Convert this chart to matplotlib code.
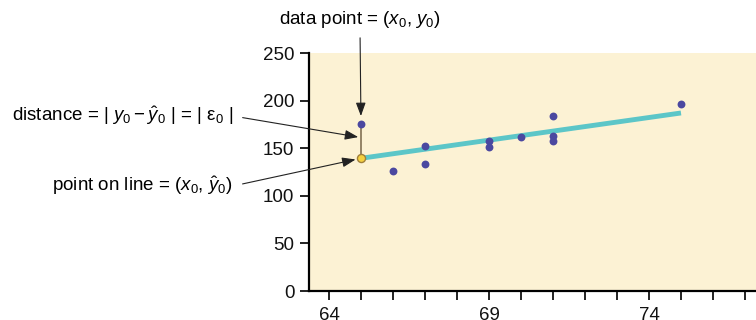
import matplotlib
matplotlib.use("Agg")
import matplotlib.pyplot as plt
import numpy as np

plt.rcParams['font.family'] = ['Liberation Sans', 'DejaVu Sans']
plt.rcParams['mathtext.fontset'] = 'custom'
plt.rcParams['mathtext.rm'] = 'Liberation Sans'
plt.rcParams['mathtext.it'] = 'Liberation Sans:italic'
plt.rcParams['mathtext.bf'] = 'Liberation Sans:bold'

# data
x_vals = [65, 66, 67, 67, 69, 69, 70, 71, 71, 71, 75]
y_vals = [175, 126, 152, 133, 158, 151, 162, 184, 163, 158, 196]
intercept = -170.0
slope = 4.76
line_x = [65, 75]
x0, y0 = 65, 175
x_ticks = list(range(64, 78))
x_tick_labels = ['64' if t == 64 else '69' if t == 69 else '74' if t == 74 else '' for t in x_ticks]
y_ticks = [0, 50, 100, 150, 200, 250]

yhat0 = intercept + slope * x0
line_y = [intercept + slope * v for v in line_x]

W, H = 756, 320
fig = plt.figure(figsize=(W / 100, H / 100), dpi=100)
ax = fig.add_axes([309 / W, 29 / H, 447 / W, 238 / H])
ax.set_facecolor('#FCF2D4')
ax.set_xlim(63.375, 63.375 + 447 / 32)
ax.set_ylim(0, 250)

for s in ['top', 'right']:
    ax.spines[s].set_visible(False)
for s in ['left', 'bottom']:
    ax.spines[s].set_linewidth(1.6)
    ax.spines[s].set_color('black')

ax.set_xticks(x_ticks)
ax.set_xticklabels(x_tick_labels)
ax.set_yticks(y_ticks)
ax.tick_params(axis='both', direction='out', length=6.5, width=1.3, labelsize=13.5, colors='#111111')
ax.tick_params(axis='x', pad=5)
ax.tick_params(axis='y', pad=4)

# residual segment
ax.plot([x0, x0], [yhat0, y0], color='#8C7B5E', lw=1.3, zorder=2)
# regression line
ax.plot(line_x, line_y, color='#5CC6C8', lw=3.5, solid_capstyle='butt', zorder=3)
# data points
ax.scatter(x_vals, y_vals, s=32, color='#4B48A0', zorder=4, linewidths=0)
# point on line
ax.scatter([x0], [yhat0], s=34, facecolor='#F4D03F', edgecolor='#A07F3A', linewidths=1.0, zorder=5)

arrow = dict(arrowstyle='-|>,head_length=0.6,head_width=0.22', color='#222222', lw=0.8)
fs = 13.5

ax.annotate(r'data point = ($x_0$, $y_0$)', xy=(x0, y0), xycoords='data',
            xytext=(360, 301), textcoords='figure pixels', ha='center', va='center',
            fontsize=fs, annotation_clip=False,
            arrowprops=dict(arrow, shrinkA=4, shrinkB=6, relpos=(0.5, 0)))

ax.annotate(r'distance = | $y_0 - \hat{y}_0$ | = | ε$_0$ |', xy=(x0, (y0 + yhat0) / 2 + 4), xycoords='data',
            xytext=(233, 204), textcoords='figure pixels', ha='right', va='center',
            fontsize=fs, annotation_clip=False,
            arrowprops=dict(arrow, shrinkA=5, shrinkB=2, relpos=(1, 0.5)))

ax.annotate(r'point on line = ($x_0$, $\hat{y}_0$)', xy=(x0, yhat0), xycoords='data',
            xytext=(233, 134), textcoords='figure pixels', ha='right', va='center',
            fontsize=fs, annotation_clip=False,
            arrowprops=dict(arrow, shrinkA=5, shrinkB=4, relpos=(1, 0.5)))

fig.savefig('out.png', dpi=100)
